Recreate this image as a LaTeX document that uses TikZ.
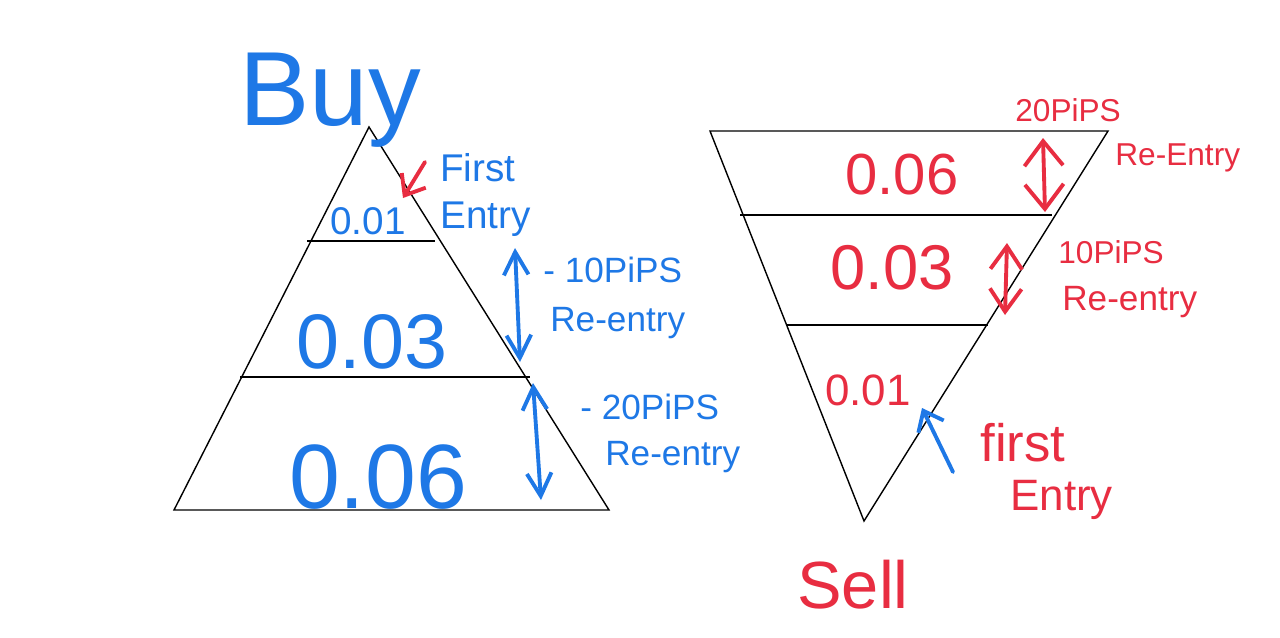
\documentclass[tikz,border=0pt]{standalone}
\usepackage{fontspec}
\setmainfont{Liberation Sans}
\usetikzlibrary{arrows.meta}
\definecolor{penblue}{RGB}{30,120,230}
\definecolor{penred}{RGB}{232,45,65}
\newcommand{\pensize}[1]{\fontsize{#1}{1.2\dimexpr#1\relax}\selectfont}

\tikzstyle{edge} = [draw=black,line width=0.8pt]
\tikzstyle{bluetext} = [text=penblue,inner sep=0pt,align=left]
\tikzstyle{redtext} = [text=penred,inner sep=0pt,align=left]
\tikzstyle{bluepen} = [draw=penblue,line width=2.2pt,line cap=round,line join=round]
\tikzstyle{redpen} = [draw=penred,line width=2.2pt,line cap=round,line join=round]
\tikzstyle{smallgap} = [<->,>={Straight Barb[length=13pt,width=14pt]}]
\tikzstyle{midgap} = [<->,>={Straight Barb[length=13pt,width=18pt]}]
\tikzstyle{biggap} = [<->,>={Straight Barb[length=14pt,width=22pt]}]
\tikzstyle{pointer} = [->,>={Straight Barb[length=10pt,width=16pt]}]

\begin{document}
\begin{tikzpicture}[x=0.02cm,y=-0.02cm]
	\fill[white] (0,0) rectangle (1280,637);
	\useasboundingbox (0,0) rectangle (1280,637);
	% buy pyramid
	\coordinate (buyapex) at (369,127);
	\coordinate (buyleft) at (174,510);
	\coordinate (buyright) at (609,510);
	\coordinate (buyl1a) at (307,241);
	\coordinate (buyl1b) at (435,241);
	\coordinate (buyl2a) at (240,377);
	\coordinate (buyl2b) at (530,377);
	\draw [edge] (buyapex) -- (buyleft) -- (buyright) -- cycle;
	\draw [edge] (buyl1a) -- (buyl1b);
	\draw [edge] (buyl2a) -- (buyl2b);
	\node (buy) [bluetext,font=\pensize{60pt}] at (330,100) {Buy};
	\node (buy001) [bluetext,font=\pensize{22pt}] at (368,221) {0.01};
	\node (buy003) [bluetext,font=\pensize{44pt}] at (372,342) {0.03};
	\node (buy006) [bluetext,font=\pensize{52pt}] at (378,477) {0.06};
	\node (buyfirst) [bluetext,font=\pensize{22pt},anchor=west] at (440,195) {First\\Entry};
	\node (buypips10) [bluetext,font=\pensize{20pt},anchor=west] at (543,270) {- 10PiPS};
	\node (buyre10) [bluetext,font=\pensize{20pt},anchor=west] at (550,323) {Re-entry};
	\node (buypips20) [bluetext,font=\pensize{20pt},anchor=west] at (580,407) {- 20PiPS};
	\node (buyre20) [bluetext,font=\pensize{20pt},anchor=west] at (605,457) {Re-entry};
	\coordinate (checkfrom) at (425,162);
	\coordinate (checkto) at (403,198);
	\coordinate (buygap1top) at (515,248);
	\coordinate (buygap1bot) at (520,362);
	\coordinate (buygap2top) at (533,383);
	\coordinate (buygap2bot) at (541,500);
	\draw [redpen,pointer] (checkfrom) -- (checkto);
	\draw [bluepen,smallgap] (buygap1top) -- (buygap1bot);
	\draw [bluepen,smallgap] (buygap2top) -- (buygap2bot);
	% sell pyramid
	\coordinate (sellleft) at (710,131);
	\coordinate (sellright) at (1108,131);
	\coordinate (sellapex) at (864,521);
	\coordinate (selll1a) at (740,215);
	\coordinate (selll1b) at (1052,215);
	\coordinate (selll2a) at (786,325);
	\coordinate (selll2b) at (988,325);
	\draw [edge] (sellleft) -- (sellright) -- (sellapex) -- cycle;
	\draw [edge] (selll1a) -- (selll1b);
	\draw [edge] (selll2a) -- (selll2b);
	\node (sell) [redtext,font=\pensize{38pt}] at (853,585) {Sell};
	\node (sell006) [redtext,font=\pensize{33pt}] at (902,175) {0.06};
	\node (sell003) [redtext,font=\pensize{36pt}] at (892,268) {0.03};
	\node (sell001) [redtext,font=\pensize{25pt}] at (868,390) {0.01};
	\node (sellpips20) [redtext,font=\pensize{18pt},anchor=west] at (1015,110) {20PiPS};
	\node (sellre20) [redtext,font=\pensize{18pt},anchor=west] at (1115,158) {Re-Entry};
	\node (sellpips10) [redtext,font=\pensize{18pt},anchor=west] at (1058,252) {10PiPS};
	\node (sellre10) [redtext,font=\pensize{20pt},anchor=west] at (1062,302) {Re-entry};
	\node (sellfirst) [redtext,font=\pensize{30pt},anchor=west] at (980,443) {first};
	\node (sellentry) [redtext,font=\pensize{25pt},anchor=west] at (1010,500) {Entry};
	\coordinate (sellgap1top) at (1043,138);
	\coordinate (sellgap1bot) at (1045,212);
	\coordinate (sellgap2top) at (1007,243);
	\coordinate (sellgap2bot) at (1005,315);
	\coordinate (arrowfrom) at (953,472);
	\coordinate (arrowto) at (922,408);
	\draw [redpen,biggap] (sellgap1top) -- (sellgap1bot);
	\draw [redpen,midgap] (sellgap2top) -- (sellgap2bot);
	\draw [bluepen,pointer] (arrowfrom) -- (arrowto);
\end{tikzpicture}
\end{document}
